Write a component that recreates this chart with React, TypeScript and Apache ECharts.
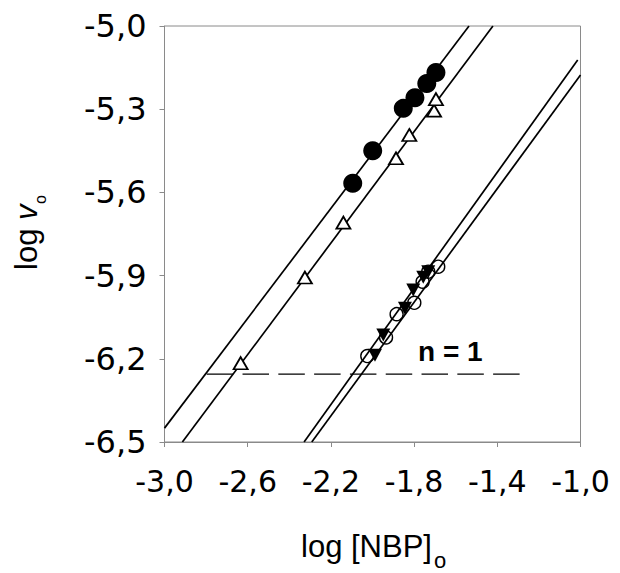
import React, { useEffect, useRef } from 'react';
import * as echarts from 'echarts';

// tick values (labels shown with decimal comma)
const xTicks = [-3.0, -2.6, -2.2, -1.8, -1.4, -1.0];
const yTicks = [-6.5, -6.2, -5.9, -5.6, -5.3, -5.0];

// data points [log [NBP]o, log vo]
const filledCircles = [
  [-2.095, -5.567], [-1.999, -5.45], [-1.852, -5.297], [-1.796, -5.259], [-1.739, -5.207], [-1.695, -5.168],
];
const openTriangles = [
  [-2.634, -6.216], [-2.325, -5.907], [-2.14, -5.709], [-1.887, -5.477], [-1.823, -5.393], [-1.704, -5.305], [-1.695, -5.264],
];
const openCircles = [
  [-2.025, -6.19], [-1.935, -6.123], [-1.884, -6.039], [-1.799, -5.998], [-1.759, -5.922], [-1.732, -5.886], [-1.684, -5.868],
];
const filledDownTriangles = [
  [-1.988, -6.187], [-1.948, -6.114], [-1.844, -6.018], [-1.804, -5.952], [-1.756, -5.906], [-1.732, -5.886],
];

// fitted lines (end points)
const fitLineCircles = [[-3.0, -6.45], [-1.536, -5.0]];
const fitLineTriangles = [[-2.914, -6.5], [-1.421, -5.0]];
const fitLineOpenCircles = [[-2.329, -6.5], [-1.0135, -5.1226]];
const fitLineDownTriangles = [[-2.292, -6.5], [-1.0, -5.1767]];
const thresholdLine = [[-2.797, -6.255], [-1.2875, -6.255]];

const fmt = (v: number) => v.toFixed(1).replace('.', ',');

export default function App() {
  const ref = useRef<HTMLDivElement>(null);
  useEffect(() => {
    if (!ref.current) return;
    const chart = echarts.init(ref.current, null, { renderer: 'svg' });
    const axisGray = '#8a8a8a';
    const lineSeries = (data: number[][], extra: any = {}) => ({
      type: 'line',
      data,
      symbol: 'none',
      clip: true,
      z: 2,
      lineStyle: { color: '#000', width: 1.7, ...extra },
      silent: true,
    });
    chart.setOption({
      animation: false,
      backgroundColor: '#fff',
      grid: {
        left: 164.5,
        right: 39.5,
        top: 26,
        bottom: 131,
        show: true,
        borderColor: axisGray,
        borderWidth: 1,
        backgroundColor: 'transparent',
        outerBoundsMode: 'none',
      },
      xAxis: {
        type: 'value',
        min: -3.0,
        max: -1.0,
        axisLine: { show: true, lineStyle: { color: axisGray, width: 1 } },
        axisTick: { show: true, length: 5, inside: false, customValues: xTicks, lineStyle: { color: axisGray } },
        splitLine: { show: false },
        axisLabel: {
          customValues: xTicks,
          formatter: fmt,
          color: '#000',
          fontFamily: 'DejaVu Sans',
          fontSize: 30,
          margin: 24,
        },
      },
      yAxis: {
        type: 'value',
        min: -6.5,
        max: -5.0,
        axisLine: { show: true, lineStyle: { color: axisGray, width: 1 } },
        axisTick: { show: true, length: 5, inside: false, customValues: yTicks, lineStyle: { color: axisGray } },
        splitLine: { show: false },
        axisLabel: {
          customValues: yTicks,
          formatter: fmt,
          color: '#000',
          fontFamily: 'DejaVu Sans',
          fontSize: 32,
          margin: 18,
        },
      },
      graphic: [
        {
          type: 'text',
          x: 301,
          y: 546,
          style: { text: 'log [NBP]', fontFamily: 'Liberation Sans', fontSize: 31, fill: '#000', align: 'left', verticalAlign: 'middle' },
        },
        {
          type: 'text',
          x: 434,
          y: 560,
          style: { text: 'o', fontFamily: 'Liberation Sans', fontSize: 22, fill: '#000', align: 'left', verticalAlign: 'middle' },
        },
        {
          type: 'group',
          x: 26,
          y: 270,
          rotation: Math.PI / 2,
          children: [
            { type: 'text', x: 0, y: 0, style: { text: 'log ', fontFamily: 'Liberation Sans', fontSize: 31, fill: '#000', align: 'left', verticalAlign: 'middle' } },
            { type: 'text', x: 50, y: 0, style: { text: 'v', fontFamily: 'Liberation Sans', fontStyle: 'italic', fontSize: 31, fill: '#000', align: 'left', verticalAlign: 'middle' } },
            { type: 'text', x: 66, y: 14, style: { text: 'o', fontFamily: 'Liberation Sans', fontSize: 16, fill: '#000', align: 'left', verticalAlign: 'middle' } },
          ],
        },
        {
          type: 'text',
          x: 418,
          y: 351,
          style: { text: 'n = 1', fontFamily: 'Liberation Sans', fontWeight: 'bold', fontSize: 28, fill: '#000', align: 'left', verticalAlign: 'middle' },
        },
      ],
      series: [
        lineSeries(fitLineCircles),
        lineSeries(fitLineTriangles),
        lineSeries(fitLineOpenCircles),
        lineSeries(fitLineDownTriangles),
        lineSeries(thresholdLine, { width: 1.2, type: [26.5, 9.3] }),
        {
          type: 'scatter',
          data: filledCircles,
          symbol: 'circle',
          symbolSize: 19,
          z: 3,
          itemStyle: { color: '#000', opacity: 1 },
        },
        {
          type: 'scatter',
          data: openTriangles,
          symbol: 'triangle',
          symbolSize: [14, 12],
          z: 3,
          itemStyle: { color: '#fff', borderColor: '#000', borderWidth: 1.8, opacity: 1 },
        },
        {
          type: 'scatter',
          data: openCircles,
          symbol: 'circle',
          symbolSize: 13,
          z: 3,
          itemStyle: { color: 'rgba(255,255,255,0)', borderColor: '#000', borderWidth: 1.4, opacity: 1 },
        },
        {
          type: 'scatter',
          data: filledDownTriangles,
          symbol: 'triangle',
          symbolRotate: 180,
          symbolSize: [14, 13],
          z: 4,
          itemStyle: { color: '#000', opacity: 1 },
        },
      ],
    });
    return () => chart.dispose();
  }, []);
  return (
    <div
      ref={ref}
      style={{ position: 'absolute', left: 0, top: 0, width: 620, height: 573, background: '#fff' }}
    />
  );
}
